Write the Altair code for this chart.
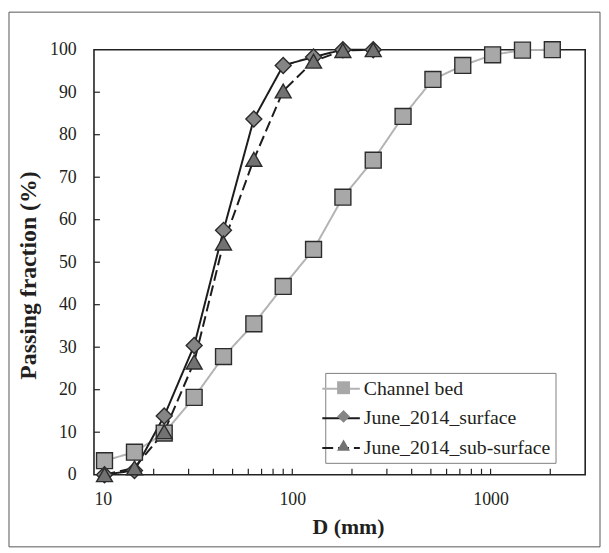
import altair as alt
import pandas as pd

# ---- data ----
series_names = ["Channel bed", "June_2014_surface", "June_2014_sub-surface"]
marker_keys = ["m_channel", "m_surface", "m_sub"]

d_channel = [11.3, 16, 22.6, 32, 45, 64, 90, 128, 180, 256, 362, 512, 724, 1024, 1448, 2048]
p_channel = [3.3, 5.3, 9.8, 18.2, 27.8, 35.5, 44.3, 53.0, 65.3, 74.0, 84.3, 93.0, 96.3, 98.8, 99.9, 100]

d_surface = [11.3, 16, 22.6, 32, 45, 64, 90, 128, 180, 256]
p_surface = [0.0, 1.0, 13.8, 30.4, 57.5, 83.7, 96.3, 98.3, 100, 100]

d_sub = [11.3, 16, 22.6, 32, 45, 64, 90, 128, 180, 256]
p_sub = [0.0, 1.6, 10.1, 26.5, 54.5, 74.2, 90.3, 97.3, 99.8, 100]

x_label_values = [10, 100, 1000]
x_tick_values = [20, 30, 40, 50, 60, 70, 80, 90, 100, 200, 300, 400, 500, 600, 700, 800, 900, 1000, 2000]
y_tick_values = [10, 20, 30, 40, 50, 60, 70, 80, 90]
y_label_values = [0, 10, 20, 30, 40, 50, 60, 70, 80, 90, 100]

rows = []
for name, key, ds, ps in zip(series_names, marker_keys, [d_channel, d_surface, d_sub], [p_channel, p_surface, p_sub]):
    for d, p in zip(ds, ps):
        rows.append({"D": d, "P": p, "series": name, "series_m": key})
df = pd.DataFrame(rows)

W, H = 497, 430
FONT = "Liberation Serif"
TXT = "#231f20"

xscale = alt.Scale(type="log", domain=[10, 3000], nice=False)
yscale = alt.Scale(domain=[0, 100], nice=False)

line_legend = alt.Legend(
    title=None, orient="none", legendX=234, legendY=327,
    symbolType="M-1.9,0L1.9,0", symbolSize=400, symbolStrokeWidth=2,
    labelFont=FONT, labelFontSize=20, labelColor=TXT, labelOffset=12,
    padding=5, rowPadding=9, strokeColor="#7f7f7f",
    labelLimit=400,
)
marker_legend = alt.Legend(
    title=None, orient="none", legendX=237.5, legendY=327,
    symbolSize=170, symbolStrokeColor="#2b2b2b", symbolStrokeWidth=1.3,
    labelFont=FONT, labelFontSize=20, labelExpr="''", labelOffset=0,
    padding=5, rowPadding=9, zindex=1,
)

x_axis = alt.Axis(
    values=x_label_values, format="d", ticks=False, domain=False, grid=False,
    labelFont=FONT, labelFontSize=18, labelColor=TXT, labelPadding=16,
    title="D (mm)", titleFont=FONT, titleFontSize=22, titleFontWeight="bold", titleColor=TXT,
    titleX=257, titleY=53, titleBaseline="middle", titleAlign="center",
)
y_axis = alt.Axis(
    values=y_label_values, ticks=False, domain=False, grid=False,
    labelFont=FONT, labelFontSize=18, labelColor=TXT, labelPadding=18,
    title="Passing fraction (%)", titleFont=FONT, titleFontSize=24, titleFontWeight="bold",
    titleColor=TXT, titleX=-66, titleY=228, titleAngle=270, titleBaseline="middle", titleAlign="center",
)

lines = alt.Chart(df).mark_line(strokeWidth=2).encode(
    x=alt.X("D:Q", scale=xscale, axis=x_axis),
    y=alt.Y("P:Q", scale=yscale, axis=y_axis),
    color=alt.Color("series:N", scale=alt.Scale(domain=series_names, range=["#b3b3b3", "#1c1c1c", "#1c1c1c"]), legend=line_legend),
    strokeDash=alt.StrokeDash("series:N", scale=alt.Scale(domain=series_names, range=[[1, 0], [1, 0], [11, 5]]), legend=line_legend),
    detail="series:N",
)

points = alt.Chart(df).mark_point(filled=True, stroke="#2b2b2b", strokeWidth=1.4, opacity=1, size=260).encode(
    x=alt.X("D:Q", scale=xscale, axis=x_axis),
    y=alt.Y("P:Q", scale=yscale, axis=y_axis),
    shape=alt.Shape("series_m:N", scale=alt.Scale(domain=marker_keys, range=["square", "diamond", "triangle-up"]), legend=marker_legend),
    fill=alt.Fill("series_m:N", scale=alt.Scale(domain=marker_keys, range=["#a8a8a8", "#858585", "#727272"]), legend=marker_legend),
)

xt = pd.DataFrame({"D": x_tick_values})
yt = pd.DataFrame({"P": y_tick_values})

x_ticks = alt.Chart(xt).mark_rule(color="#222", strokeWidth=1.2).encode(
    x=alt.X("D:Q", scale=xscale, axis=x_axis),
    y=alt.value(H), y2=alt.value(H - 6),
)
y_ticks = alt.Chart(yt).mark_rule(color="#222", strokeWidth=1.2).encode(
    y=alt.Y("P:Q", scale=yscale, axis=y_axis),
    x=alt.value(0), x2=alt.value(6),
)

frame = alt.Chart(pd.DataFrame({"a": [0]})).mark_rect(fill="transparent", stroke="#555", strokeWidth=1).encode(
    x=alt.value(-86), x2=alt.value(512), y=alt.value(-38), y2=alt.value(503),
)

chart = alt.layer(lines, points, x_ticks, y_ticks, frame).properties(
    width=W, height=H,
    padding={"left": 0, "top": 0, "right": 0, "bottom": 0},
    background="white",
).configure_view(stroke="#222", strokeWidth=1.6)

chart.save("out.html", embed_options={"renderer": "svg", "actions": False})
